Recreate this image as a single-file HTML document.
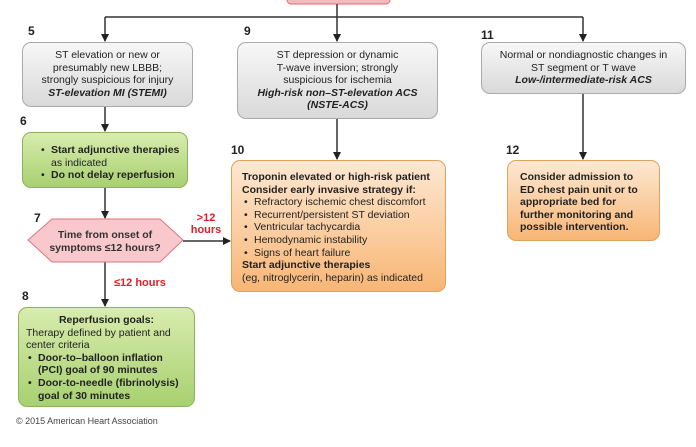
<!DOCTYPE html>
<html><head><meta charset="utf-8"><style>
body{margin:0;width:696px;height:447px;background:#fff;position:relative;overflow:hidden;font-family:"Liberation Sans",sans-serif;color:#222}
.b{position:absolute;box-sizing:border-box;border-radius:9px;font-size:10.5px;line-height:12.6px}
.g{background:linear-gradient(#f7f7f7,#d9d9d9);border:1px solid #aaa;text-align:center;padding-top:6px}
.gr{background:linear-gradient(#d8ecae,#a8d070);border:1px solid #8db35a}
.o{background:linear-gradient(#fde8d2,#f8b676);border:1px solid #e0a060}
.n{position:absolute;font-weight:bold;font-size:12px}
.r{position:absolute;color:#e0202a;font-weight:bold;font-size:11px;text-align:center;line-height:12px}
ul{margin:0;padding-left:12px}
li{list-style:none;position:relative}
li:before{content:"•";position:absolute;left:-10px}
</style></head><body>
<svg width="696" height="447" style="position:absolute;left:0;top:0">
<defs><marker id="a" markerWidth="8" markerHeight="8" refX="7" refY="4" orient="auto" markerUnits="userSpaceOnUse"><path d="M0,0 L8,4 L0,8z" fill="#222"/></marker></defs>
<rect x="287" y="-6" width="103" height="10" rx="4" fill="#f4b8bf" stroke="#e66" />
<g stroke="#333" stroke-width="1.5" fill="none">
<path d="M337,4 V17"/>
<path d="M105,17 H583"/>
<path d="M105,17 V41" marker-end="url(#a)"/>
<path d="M337,17 V41" marker-end="url(#a)"/>
<path d="M583,17 V41" marker-end="url(#a)"/>
<path d="M105,107 V131" marker-end="url(#a)"/>
<path d="M337,119 V159" marker-end="url(#a)"/>
<path d="M583,94 V159" marker-end="url(#a)"/>
<path d="M105,188 V218" marker-end="url(#a)"/>
<path d="M183,241 H230" marker-end="url(#a)"/>
<path d="M105,262 V306" marker-end="url(#a)"/>
</g>
<polygon points="28,240 52,219 160,219 183,240 160,262 52,262" fill="#f8c8cc" stroke="#d77"/>
<text x="105" y="238" font-size="10.5" font-weight="bold" text-anchor="middle" fill="#333" font-family="Liberation Sans">Time from onset of</text>
<text x="105" y="251" font-size="10.5" font-weight="bold" text-anchor="middle" fill="#333" font-family="Liberation Sans">symptoms ≤12 hours?</text>
</svg>
<div class="n" style="left:28px;top:24px">5</div>
<div class="n" style="left:244px;top:24px">9</div>
<div class="n" style="left:481px;top:28px">11</div>
<div class="n" style="left:20px;top:114px">6</div>
<div class="n" style="left:231px;top:143px">10</div>
<div class="n" style="left:506px;top:143px">12</div>
<div class="n" style="left:34px;top:211px">7</div>
<div class="n" style="left:22px;top:289px">8</div>
<div class="b g" style="left:22px;top:42px;width:171px;height:65px">ST elevation or new or<br>presumably new LBBB;<br>strongly suspicious for injury<br><b><i>ST-elevation MI (STEMI)</i></b></div>
<div class="b g" style="left:237px;top:42px;width:201px;height:77px">ST depression or dynamic<br>T-wave inversion; strongly<br>suspicious for ischemia<br><b><i>High-risk non–ST-elevation ACS<br>(NSTE-ACS)</i></b></div>
<div class="b g" style="left:481px;top:42px;width:205px;height:52px">Normal or nondiagnostic changes in<br>ST segment or T wave<br><b><i>Low-/intermediate-risk ACS</i></b></div>
<div class="b gr" style="left:22px;top:132px;width:166px;height:56px;padding:11px 0 0 16px"><ul><li><b>Start adjunctive therapies</b><br>as indicated</li><li><b>Do not delay reperfusion</b></li></ul></div>
<div class="b o" style="left:231px;top:160px;width:215px;height:132px;padding:10px 0 0 10px"><b>Troponin elevated or high-risk patient<br>Consider early invasive strategy if:</b><ul><li>Refractory ischemic chest discomfort</li><li>Recurrent/persistent ST deviation</li><li>Ventricular tachycardia</li><li>Hemodynamic instability</li><li>Signs of heart failure</li></ul><b>Start adjunctive therapies</b><br>(eg, nitroglycerin, heparin) as indicated</div>
<div class="b o" style="left:507px;top:160px;width:153px;height:81px;padding:10px 0 0 12px;font-weight:bold">Consider admission to<br>ED chest pain unit or to<br>appropriate bed for<br>further monitoring and<br>possible intervention.</div>
<div class="r" style="left:188px;top:212px;width:36px">&gt;12<br>hours</div>
<div class="r" style="left:114px;top:277px">≤12 hours</div>
<div class="b gr" style="left:18px;top:307px;width:177px;height:100px;padding:6px 0 0 7px"><div style="text-align:center;font-weight:bold;margin-left:-7px">Reperfusion goals:</div>Therapy defined by patient and<br>center criteria<ul style="font-weight:bold"><li>Door-to–balloon inflation<br>(PCI) goal of 90 minutes</li><li>Door-to-needle (fibrinolysis)<br>goal of 30 minutes</li></ul></div>
<div style="position:absolute;left:16px;top:416px;font-size:9px;color:#444">© 2015 American Heart Association</div>
</body></html>
